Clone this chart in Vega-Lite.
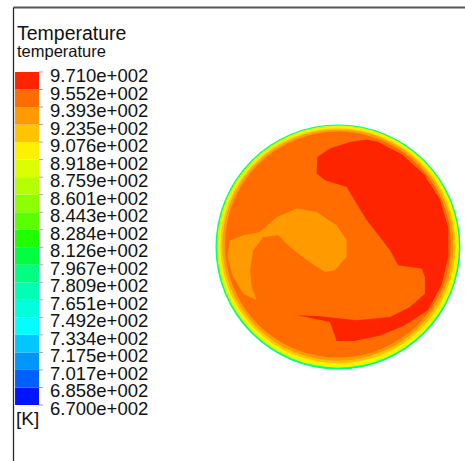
{
  "$schema": "https://vega.github.io/schema/vega-lite/v6.json",
  "width": 452,
  "height": 454,
  "autosize": {"type": "none"},
  "padding": {"left": 13, "top": 7, "right": 0, "bottom": 0},
  "background": "white",
  "datasets": {
    "rings": [
      {"k": "g", "T": 790, "x": 0, "y": 0},
      {"k": "yg", "T": 880, "x": 0, "y": 0.003},
      {"k": "y", "T": 900, "x": 0, "y": 0.006},
      {"k": "a", "T": 915, "x": 0, "y": 0.01},
      {"k": "lo", "T": 930, "x": 0, "y": 0.015},
      {"k": "o", "T": 947, "x": 0, "y": 0.02}
    ],
    "regions": [
      {"r": "red", "T": 963, "i": 0, "x": -0.171, "y": 0.744},
      {"r": "red", "T": 963, "i": 1, "x": -0.066, "y": 0.813},
      {"r": "red", "T": 963, "i": 2, "x": 0.099, "y": 0.868},
      {"r": "red", "T": 963, "i": 3, "x": 0.237, "y": 0.887},
      {"r": "red", "T": 963, "i": 4, "x": 0.33, "y": 0.87},
      {"r": "red", "T": 963, "i": 5, "x": 0.533, "y": 0.762},
      {"r": "red", "T": 963, "i": 6, "x": 0.712, "y": 0.598},
      {"r": "red", "T": 963, "i": 7, "x": 0.843, "y": 0.393},
      {"r": "red", "T": 963, "i": 8, "x": 0.912, "y": 0.161},
      {"r": "red", "T": 963, "i": 9, "x": 0.912, "y": -0.08},
      {"r": "red", "T": 963, "i": 10, "x": 0.856, "y": -0.312},
      {"r": "red", "T": 963, "i": 11, "x": 0.745, "y": -0.522},
      {"r": "red", "T": 963, "i": 12, "x": 0.546, "y": -0.651},
      {"r": "red", "T": 963, "i": 13, "x": 0.342, "y": -0.734},
      {"r": "red", "T": 963, "i": 14, "x": 0.137, "y": -0.778},
      {"r": "red", "T": 963, "i": 15, "x": -0.011, "y": -0.777},
      {"r": "red", "T": 963, "i": 16, "x": -0.066, "y": -0.62},
      {"r": "red", "T": 963, "i": 17, "x": -0.336, "y": -0.565},
      {"r": "red", "T": 963, "i": 18, "x": -0.149, "y": -0.573},
      {"r": "red", "T": 963, "i": 19, "x": 0.154, "y": -0.606},
      {"r": "red", "T": 963, "i": 20, "x": 0.43, "y": -0.579},
      {"r": "red", "T": 963, "i": 21, "x": 0.595, "y": -0.496},
      {"r": "red", "T": 963, "i": 22, "x": 0.719, "y": -0.386},
      {"r": "red", "T": 963, "i": 23, "x": 0.719, "y": -0.248},
      {"r": "red", "T": 963, "i": 24, "x": 0.692, "y": -0.179},
      {"r": "red", "T": 963, "i": 25, "x": 0.595, "y": -0.165},
      {"r": "red", "T": 963, "i": 26, "x": 0.498, "y": -0.151},
      {"r": "red", "T": 963, "i": 27, "x": 0.43, "y": -0.028},
      {"r": "red", "T": 963, "i": 28, "x": 0.347, "y": 0.083},
      {"r": "red", "T": 963, "i": 29, "x": 0.237, "y": 0.22},
      {"r": "red", "T": 963, "i": 30, "x": 0.154, "y": 0.358},
      {"r": "red", "T": 963, "i": 31, "x": 0.072, "y": 0.496},
      {"r": "red", "T": 963, "i": 32, "x": -0.107, "y": 0.551},
      {"r": "red", "T": 963, "i": 33, "x": -0.176, "y": 0.606},
      {"r": "lo", "T": 931, "i": 0, "x": -0.893, "y": 0.055},
      {"r": "lo", "T": 931, "i": 1, "x": -0.783, "y": 0.096},
      {"r": "lo", "T": 931, "i": 2, "x": -0.645, "y": 0.124},
      {"r": "lo", "T": 931, "i": 3, "x": -0.507, "y": 0.248},
      {"r": "lo", "T": 931, "i": 4, "x": -0.341, "y": 0.317},
      {"r": "lo", "T": 931, "i": 5, "x": -0.176, "y": 0.289},
      {"r": "lo", "T": 931, "i": 6, "x": -0.011, "y": 0.179},
      {"r": "lo", "T": 931, "i": 7, "x": 0.072, "y": 0.055},
      {"r": "lo", "T": 931, "i": 8, "x": 0.072, "y": -0.083},
      {"r": "lo", "T": 931, "i": 9, "x": -0.025, "y": -0.193},
      {"r": "lo", "T": 931, "i": 10, "x": -0.107, "y": -0.207},
      {"r": "lo", "T": 931, "i": 11, "x": -0.259, "y": -0.11},
      {"r": "lo", "T": 931, "i": 12, "x": -0.397, "y": 0.0},
      {"r": "lo", "T": 931, "i": 13, "x": -0.493, "y": 0.096},
      {"r": "lo", "T": 931, "i": 14, "x": -0.617, "y": 0.083},
      {"r": "lo", "T": 931, "i": 15, "x": -0.7, "y": -0.028},
      {"r": "lo", "T": 931, "i": 16, "x": -0.727, "y": -0.193},
      {"r": "lo", "T": 931, "i": 17, "x": -0.713, "y": -0.331},
      {"r": "lo", "T": 931, "i": 18, "x": -0.672, "y": -0.441},
      {"r": "lo", "T": 931, "i": 19, "x": -0.783, "y": -0.386},
      {"r": "lo", "T": 931, "i": 20, "x": -0.87, "y": -0.24},
      {"r": "lo", "T": 931, "i": 21, "x": -0.915, "y": -0.08}
    ],
    "texts": [
      {"u": "Temperature", "x": -2.653, "y": 1.711},
      {"u": "temperature", "x": -2.653, "y": 1.57},
      {"u": "[K]", "x": -2.661, "y": -1.425}
    ],
    "bands": [
      {"lo": 670, "hi": 685.842, "T": 678},
      {"lo": 685.842, "hi": 701.684, "T": 694},
      {"lo": 701.684, "hi": 717.526, "T": 710},
      {"lo": 717.526, "hi": 733.368, "T": 725},
      {"lo": 733.368, "hi": 749.211, "T": 741},
      {"lo": 749.211, "hi": 765.053, "T": 757},
      {"lo": 765.053, "hi": 780.895, "T": 773},
      {"lo": 780.895, "hi": 796.737, "T": 789},
      {"lo": 796.737, "hi": 812.579, "T": 805},
      {"lo": 812.579, "hi": 828.421, "T": 820},
      {"lo": 828.421, "hi": 844.263, "T": 836},
      {"lo": 844.263, "hi": 860.105, "T": 852},
      {"lo": 860.105, "hi": 875.947, "T": 868},
      {"lo": 875.947, "hi": 891.789, "T": 884},
      {"lo": 891.789, "hi": 907.632, "T": 900},
      {"lo": 907.632, "hi": 923.474, "T": 916},
      {"lo": 923.474, "hi": 939.316, "T": 931},
      {"lo": 939.316, "hi": 955.158, "T": 947},
      {"lo": 955.158, "hi": 971, "T": 963}
    ],
    "labels": [
      {"v": 670, "lab": "6.700e+002"},
      {"v": 685.842, "lab": "6.858e+002"},
      {"v": 701.684, "lab": "7.017e+002"},
      {"v": 717.526, "lab": "7.175e+002"},
      {"v": 733.368, "lab": "7.334e+002"},
      {"v": 749.211, "lab": "7.492e+002"},
      {"v": 765.053, "lab": "7.651e+002"},
      {"v": 780.895, "lab": "7.809e+002"},
      {"v": 796.737, "lab": "7.967e+002"},
      {"v": 812.579, "lab": "8.126e+002"},
      {"v": 828.421, "lab": "8.284e+002"},
      {"v": 844.263, "lab": "8.443e+002"},
      {"v": 860.105, "lab": "8.601e+002"},
      {"v": 875.947, "lab": "8.759e+002"},
      {"v": 891.789, "lab": "8.918e+002"},
      {"v": 907.632, "lab": "9.076e+002"},
      {"v": 923.474, "lab": "9.235e+002"},
      {"v": 939.316, "lab": "9.393e+002"},
      {"v": 955.158, "lab": "9.552e+002"},
      {"v": 971, "lab": "9.710e+002"}
    ]
  },
  "layer": [
    {
      "encoding": {
        "x": {
          "field": "x",
          "type": "quantitative",
          "scale": {"domain": [-2.686, 1.05], "nice": false, "zero": false},
          "axis": {"orient": "top", "domain": true, "domainColor": "#555555", "domainWidth": 1.8, "ticks": false, "labels": false, "grid": false, "title": null}
        },
        "y": {
          "field": "y",
          "type": "quantitative",
          "scale": {"domain": [-1.769, 1.983], "nice": false, "zero": false},
          "axis": {"orient": "left", "domain": true, "domainColor": "#2a2a2a", "domainWidth": 1.3, "ticks": false, "labels": false, "grid": false, "title": null}
        },
        "color": {
          "field": "T",
          "type": "quantitative",
          "scale": {
            "type": "quantize",
            "domain": [670, 971],
            "nice": false,
            "zero": false,
            "range": ["#0014ff", "#0060ff", "#0096ff", "#00c8ff", "#00ffff", "#00ffdc", "#00ffb4", "#00ff80", "#00ff40", "#20ff00", "#5aff00", "#8cff00", "#b4ff00", "#dcff00", "#fff000", "#ffc400", "#ff9a00", "#ff6c00", "#ff2400"]
          },
          "legend": null
        }
      },
      "layer": [
        {"data": {"name": "rings"}, "transform": [{"filter": "datum.k == 'g'"}], "mark": {"type": "point", "filled": true, "opacity": 1, "size": 60025, "strokeWidth": 0}},
        {"data": {"name": "rings"}, "transform": [{"filter": "datum.k == 'yg'"}], "mark": {"type": "point", "filled": true, "opacity": 1, "size": 58564, "strokeWidth": 0}},
        {"data": {"name": "rings"}, "transform": [{"filter": "datum.k == 'y'"}], "mark": {"type": "point", "filled": true, "opacity": 1, "size": 57121, "strokeWidth": 0}},
        {"data": {"name": "rings"}, "transform": [{"filter": "datum.k == 'a'"}], "mark": {"type": "point", "filled": true, "opacity": 1, "size": 55225, "strokeWidth": 0}},
        {"data": {"name": "rings"}, "transform": [{"filter": "datum.k == 'lo'"}], "mark": {"type": "point", "filled": true, "opacity": 1, "size": 53361, "strokeWidth": 0}},
        {"data": {"name": "rings"}, "transform": [{"filter": "datum.k == 'o'"}], "mark": {"type": "point", "filled": true, "opacity": 1, "size": 51076, "strokeWidth": 0}},
        {
          "data": {"name": "regions"},
          "mark": {"type": "line", "interpolate": "linear-closed", "filled": true, "opacity": 1, "strokeWidth": 0},
          "encoding": {"order": {"field": "i", "type": "quantitative"}, "detail": {"field": "r"}}
        },
        {
          "data": {"name": "texts"},
          "transform": [{"filter": "datum.u == 'Temperature'"}],
          "mark": {"type": "text", "align": "left", "baseline": "alphabetic", "font": "Liberation Sans", "fontSize": 19.5},
          "encoding": {"text": {"field": "u"}, "color": {"value": "#111111"}}
        },
        {
          "data": {"name": "texts"},
          "transform": [{"filter": "datum.u == 'temperature'"}],
          "mark": {"type": "text", "align": "left", "baseline": "alphabetic", "font": "Liberation Sans", "fontSize": 16.5},
          "encoding": {"text": {"field": "u"}, "color": {"value": "#111111"}}
        },
        {
          "data": {"name": "texts"},
          "transform": [{"filter": "datum.u == '[K]'"}],
          "mark": {"type": "text", "align": "left", "baseline": "middle", "font": "Liberation Sans", "fontSize": 19},
          "encoding": {"text": {"field": "u"}, "color": {"value": "#111111"}}
        }
      ]
    },
    {
      "layer": [
        {
          "data": {"name": "bands"},
          "mark": {"type": "rect", "strokeWidth": 0},
          "encoding": {
            "x": {"datum": -2.669, "type": "quantitative", "scale": {"domain": [-2.686, 1.05], "nice": false, "zero": false}, "axis": null},
            "x2": {"datum": -2.471},
            "y": {"field": "lo", "type": "quantitative", "scale": {"domain": [619.381, 1029.754], "nice": false, "zero": false}, "axis": null},
            "y2": {"field": "hi"},
            "color": {
              "field": "T",
              "type": "quantitative",
              "scale": {
                "type": "quantize",
                "domain": [670, 971],
                "nice": false,
                "zero": false,
                "range": ["#0014ff", "#0060ff", "#0096ff", "#00c8ff", "#00ffff", "#00ffdc", "#00ffb4", "#00ff80", "#00ff40", "#20ff00", "#5aff00", "#8cff00", "#b4ff00", "#dcff00", "#fff000", "#ffc400", "#ff9a00", "#ff6c00", "#ff2400"]
              },
              "legend": null
            }
          }
        },
        {
          "data": {"name": "labels"},
          "mark": {"type": "rule", "strokeWidth": 1, "color": "#a0a0a0"},
          "encoding": {
            "x": {"datum": -2.471, "type": "quantitative", "axis": null},
            "x2": {"datum": -2.438},
            "y": {"field": "v", "type": "quantitative", "axis": null}
          }
        },
        {
          "data": {"name": "labels"},
          "mark": {"type": "text", "align": "left", "baseline": "middle", "dy": 4, "font": "Liberation Sans", "fontSize": 18.5, "color": "#111111"},
          "encoding": {
            "x": {"datum": -2.38, "type": "quantitative", "axis": null},
            "y": {"field": "v", "type": "quantitative", "axis": null},
            "text": {"field": "lab"}
          }
        }
      ]
    }
  ],
  "resolve": {"scale": {"x": "independent", "y": "independent"}, "axis": {"x": "independent", "y": "independent"}},
  "config": {"view": {"stroke": null}, "font": "Liberation Sans"}
}
